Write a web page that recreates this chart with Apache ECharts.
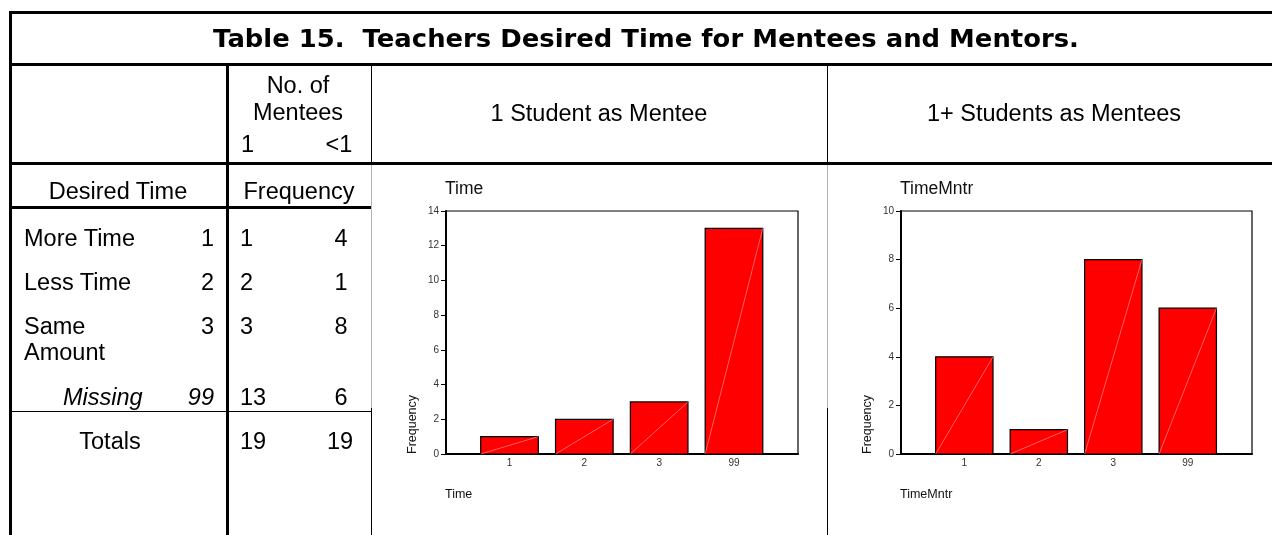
<!DOCTYPE html>
<html>
<head>
<meta charset="utf-8">
<title>Table 15</title>
<script src="https://cdn.jsdelivr.net/npm/echarts@6/dist/echarts.min.js"></script>
<style>
  body { margin:0; background:#fff; }
  #page { position:relative; width:1272px; height:535px; overflow:hidden; background:#fff;
          font-family:"Liberation Sans", Arial, sans-serif; color:#000; }
  .ln { position:absolute; background:#000; }
  .tx { position:absolute; white-space:pre; font-size:23.5px; line-height:1; }
  #chart { position:absolute; left:0; top:0; width:1272px; height:535px; }
</style>
</head>
<body>
<div id="page"><div id="chart"></div></div>
<script>
var tableTitle = 'Table 15.  Teachers Desired Time for Mentees and Mentors.';
var headCount = ['No. of', 'Mentees'];
var headCountCols = ['1', '<1'];
var headOne = '1 Student as Mentee';
var headMany = '1+ Students as Mentees';
var desiredLabels = [['More Time'], ['Less Time'], ['Same', 'Amount'], ['Missing']];
var desiredCodes = ['1', '2', '3', '99'];
var freqOne = [1, 2, 3, 13];     // 1 mentee  -> chart "Time"
var freqMany = [4, 1, 8, 6];     // <1 mentee -> chart "TimeMntr"
var totals = [19, 19];

// ---- data for the two bar charts ----
var categories = ['1', '2', '3', '99'];
var yMaxTime = 14;
var yMaxMntr = 10;
var yStep = 2;

var page = document.getElementById('page');

function line(x, y, w, h, color) {
  var d = document.createElement('div');
  d.className = 'ln';
  d.style.left = x + 'px'; d.style.top = y + 'px';
  d.style.width = w + 'px'; d.style.height = h + 'px';
  if (color) d.style.background = color;
  page.appendChild(d);
}

function text(str, x, y, align, extra) {
  var d = document.createElement('div');
  d.className = 'tx';
  d.textContent = str;
  d.style.left = x + 'px'; d.style.top = y + 'px';
  var tx = align == 'center' ? '-50%' : (align == 'right' ? '-100%' : '0');
  d.style.transform = 'translate(' + tx + ',-50%)';
  if (extra) for (var k in extra) d.style[k] = extra[k];
  page.appendChild(d);
  return d;
}

// outer frame + rules
line(9, 11, 1263, 3);          // top
line(9, 11, 3, 524);           // left
line(9, 63, 1263, 3);          // under title
line(9, 162, 1263, 3);         // under header
line(226, 63, 3, 472);         // desired | frequency
line(9, 206, 363, 3);          // under "Desired Time / Frequency"
line(9, 411, 363, 1);          // under Missing
// thin column rules (grey where the chart pictures overlap)
[371, 827].forEach(function (x) {
  line(x, 64, 1, 100);
  line(x, 165, 1, 243, '#b4b4b4');
  line(x, 408, 1, 127);
});

// title, fitted to the width of the original
var t = text(tableTitle, 646, 38, 'center', {
  fontFamily: '"DejaVu Sans", Verdana, sans-serif', fontWeight: 'bold', fontSize: '25px'
});
var tw = t.offsetWidth;
t.style.transform = 'translate(-50%,-50%) scaleX(' + (866 / tw) + ')';

// header row
text(headCount[0], 298, 86, 'center');
text(headCount[1], 298, 113, 'center');
text(headCountCols[0], 241, 145, 'left');
text(headCountCols[1], 339, 145, 'center');
text(headOne, 599, 114, 'center');
text(headMany, 1054, 114, 'center');

// body
text('Desired Time', 118, 192, 'center');
text('Frequency', 299, 192, 'center');

var rowY = [239, 283, 327, 398];
desiredLabels.forEach(function (lab, i) {
  var italic = i == desiredLabels.length - 1;
  var st = italic ? { fontStyle: 'italic' } : null;
  lab.forEach(function (s, j) {
    text(s, italic ? 63 : 24, rowY[i] + j * 26, 'left', st);
  });
  text(desiredCodes[i], 214, rowY[i], 'right', st);
  text(String(freqOne[i]), 240, rowY[i], 'left');
  text(String(freqMany[i]), 341, rowY[i], 'center');
});
text('Totals', 110, 442, 'center');
text(String(totals[0]), 240, 442, 'left');
text(String(totals[1]), 340, 442, 'center');

// ---- charts ----
var chart = echarts.init(document.getElementById('chart'));

function frameGrid(left, width) {
  return { left: left, top: 211, width: width, height: 243, show: true,
           borderColor: '#000', borderWidth: 1.2, backgroundColor: 'rgba(0,0,0,0)' };
}
function barGrid(left, width) {
  return { left: left, top: 211, width: width, height: 243 };
}
function frameX(gi) {
  return { gridIndex: gi, type: 'value', min: 0, max: 1,
           axisLine: { show: true, onZero: false, lineStyle: { color: '#000', width: 2 } },
           axisTick: { show: false }, axisLabel: { show: false }, splitLine: { show: false } };
}
function barX(gi) {
  return { gridIndex: gi, type: 'category', data: categories,
           axisLine: { show: false }, axisTick: { show: false },
           axisLabel: { fontSize: 10, color: '#333', margin: 4, fontFamily: 'Liberation Sans' } };
}
function frameY(gi, max) {
  return { gridIndex: gi, type: 'value', min: 0, max: max, interval: yStep,
           axisLine: { show: true, lineStyle: { color: '#000', width: 2 } },
           axisTick: { show: true, length: 5, lineStyle: { color: '#000' } },
           axisLabel: { fontSize: 10, color: '#333', margin: 7, fontFamily: 'Liberation Sans' },
           splitLine: { show: false } };
}
function barY(gi, max) {
  return { gridIndex: gi, type: 'value', min: 0, max: max, show: false, splitLine: { show: false } };
}

// red bar with black edge and the faint diagonal of the original pictures
function renderBar(params, api) {
  var top = api.coord([api.value(0), api.value(1)]);
  var base = api.coord([api.value(0), 0]);
  var w = api.size([1, 0])[0] * 0.77;
  var x0 = top[0] - w / 2, x1 = top[0] + w / 2;
  return {
    type: 'group',
    children: [
      { type: 'rect', shape: { x: x0, y: top[1], width: w, height: base[1] - top[1] },
        style: { fill: '#ff0000', stroke: '#000', lineWidth: 1.2 } },
      { type: 'line', shape: { x1: x0, y1: base[1], x2: x1, y2: top[1] },
        style: { stroke: 'rgba(255,185,185,0.9)', lineWidth: 0.6 } }
    ]
  };
}

function label(str, x, y, size) {
  return { type: 'text', x: x, y: y,
           style: { text: str, font: size + 'px "Liberation Sans"', fill: '#111', verticalAlign: 'middle' } };
}
function yName(x) {
  return { type: 'text', x: x, y: 454, rotation: Math.PI / 2,
           style: { text: 'Frequency', font: '12.5px "Liberation Sans"', fill: '#111',
                    align: 'left', verticalAlign: 'middle' } };
}

var option = {
  animation: false,
  grid: [frameGrid(446, 352), barGrid(472.1, 299.3), frameGrid(901, 351), barGrid(927.1, 297.9)],
  xAxis: [frameX(0), barX(1), frameX(2), barX(3)],
  yAxis: [frameY(0, yMaxTime), barY(1, yMaxTime), frameY(2, yMaxMntr), barY(3, yMaxMntr)],
  series: [
    { name: 'Time', type: 'custom', xAxisIndex: 1, yAxisIndex: 1, renderItem: renderBar,
      encode: { x: 0, y: 1 },
      data: freqOne.map(function (v, i) { return [categories[i], v]; }) },
    { name: 'TimeMntr', type: 'custom', xAxisIndex: 3, yAxisIndex: 3, renderItem: renderBar,
      encode: { x: 0, y: 1 },
      data: freqMany.map(function (v, i) { return [categories[i], v]; }) }
  ],
  graphic: [
    label('Time', 445, 189, 17.5),
    label('TimeMntr', 900, 189, 17.5),
    label('Time', 445, 495, 12.5),
    label('TimeMntr', 900, 495, 12.5),
    yName(413),
    yName(868)
  ]
};
chart.setOption(option);
</script>
</body>
</html>
